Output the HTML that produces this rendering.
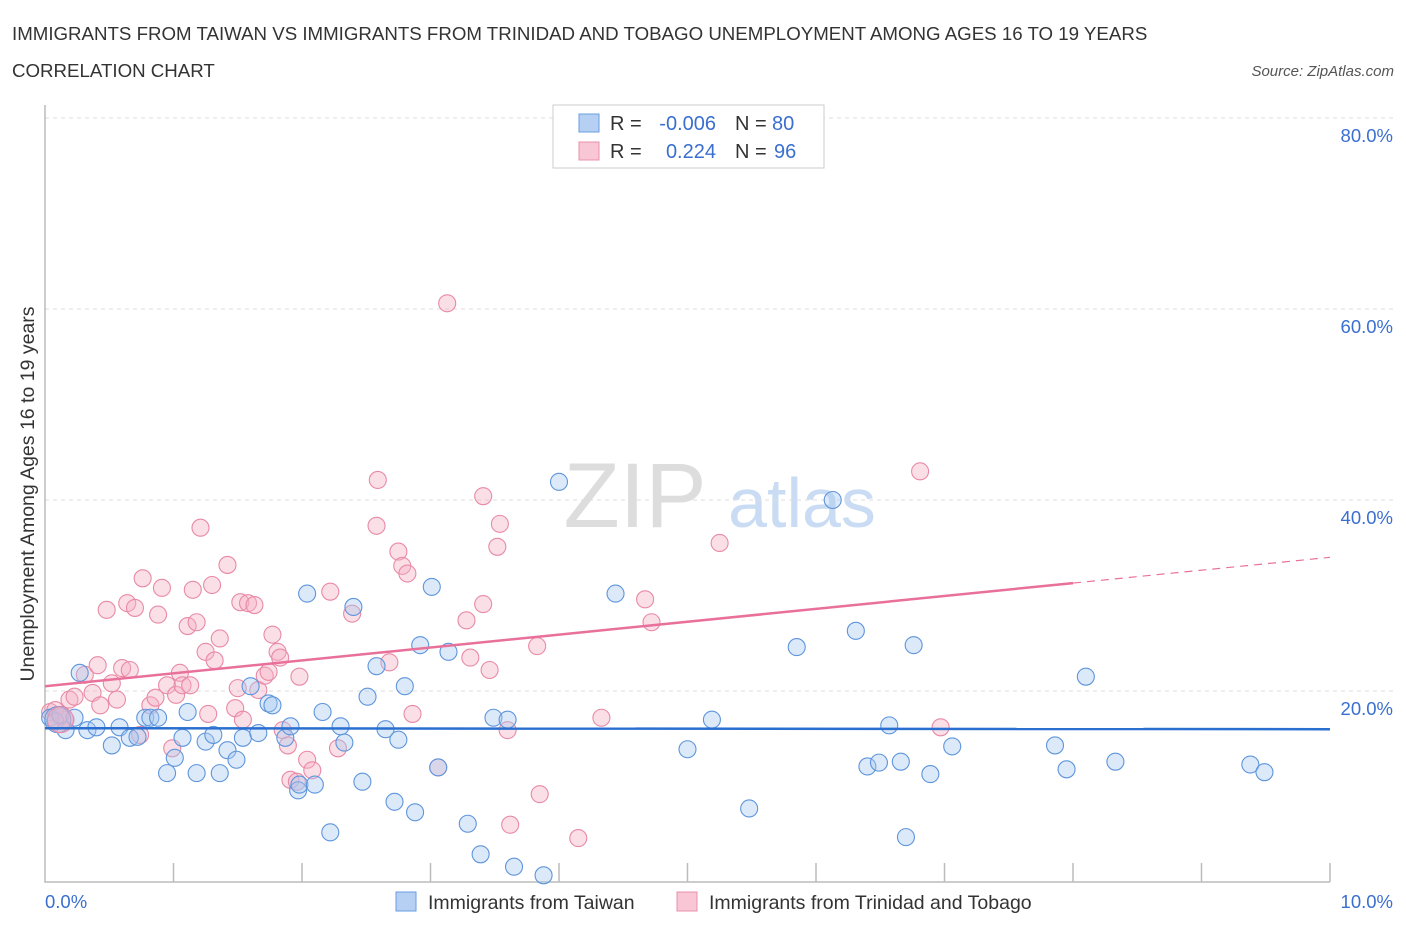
<!DOCTYPE html>
<html><head><meta charset="utf-8"><style>
body{margin:0;background:#fff;font-family:"Liberation Sans",sans-serif}
svg text{font-family:"Liberation Sans",sans-serif}
</style></head><body>
<svg id="chart" width="1406" height="930" xmlns="http://www.w3.org/2000/svg">
<text x="12" y="40" font-size="18.7" fill="#333">IMMIGRANTS FROM TAIWAN VS IMMIGRANTS FROM TRINIDAD AND TOBAGO UNEMPLOYMENT AMONG AGES 16 TO 19 YEARS</text>
<text x="12" y="77" font-size="18.7" fill="#333">CORRELATION CHART</text>
<text x="1394" y="76" font-size="15" font-style="italic" fill="#555" text-anchor="end">Source: ZipAtlas.com</text>
<g>
<text x="635" y="527" font-size="92" font-family="Liberation Serif" fill="#ddd" text-anchor="middle">ZIP</text>
<text x="802" y="527" font-size="70" fill="#c9dcf3" text-anchor="middle">atlas</text>
</g>
<g id="grid"></g>
<g id="axes"></g>
<g id="pts"></g>
<g id="trends"></g>
<text transform="translate(34,494) rotate(-90)" font-size="19.5" fill="#333" text-anchor="middle">Unemployment Among Ages 16 to 19 years</text>
<g>
<rect x="553" y="105" width="271" height="63" fill="#fff" stroke="#ccc"/>
<rect x="579" y="114" width="20" height="18" fill="#b6d0f4" stroke="#6a9ee0"/>
<rect x="579" y="142" width="20" height="18" fill="#f8c6d4" stroke="#e890a8"/>
<text x="610" y="130" font-size="20" fill="#333">R =</text>
<text x="716" y="130" font-size="20" fill="#3a6fd0" text-anchor="end">-0.006</text>
<text x="735" y="130" font-size="20" fill="#333">N =</text>
<text x="772" y="130" font-size="20" fill="#3a6fd0">80</text>
<text x="610" y="158" font-size="20" fill="#333">R =</text>
<text x="716" y="158" font-size="20" fill="#3a6fd0" text-anchor="end">0.224</text>
<text x="735" y="158" font-size="20" fill="#333">N =</text>
<text x="774" y="158" font-size="20" fill="#3a6fd0">96</text>
</g>
<g>
<rect x="396" y="892" width="20" height="19" fill="#b6d0f4" stroke="#6a9ee0"/>
<text x="428" y="909" font-size="19.5" fill="#333">Immigrants from Taiwan</text>
<rect x="677" y="892" width="20" height="19" fill="#f8c6d4" stroke="#e890a8"/>
<text x="709" y="909" font-size="19.5" fill="#333">Immigrants from Trinidad and Tobago</text>
</g>
</svg>
<script>
const yTicks=[20,40,60,80];
const xTickLabels=["0.0%","10.0%"];
const blueX=[0.04,0.08,0.16,0.12,0.23,0.27,0.33,0.40,0.52,0.58,0.66,0.72,0.78,0.82,0.88,0.95,1.01,1.07,1.11,1.18,1.25,1.31,1.36,1.42,1.49,1.54,1.60,1.66,1.74,1.77,1.87,1.91,1.97,1.98,2.04,2.10,2.16,2.22,2.30,2.33,2.40,2.47,2.51,2.58,2.65,2.72,2.75,2.80,2.88,2.92,3.06,3.14,3.01,3.29,3.39,3.49,3.60,3.65,3.88,4.00,4.44,5.00,5.19,5.48,5.85,6.13,6.31,6.40,6.49,6.57,6.66,6.70,6.76,6.89,7.06,7.86,7.95,8.10,8.33,9.38,9.49];
const blueY=[17.2,16.8,15.9,17.5,17.2,21.9,15.9,16.2,14.3,16.2,15.1,15.2,17.2,17.2,17.2,11.4,13.0,15.1,17.8,11.4,14.7,15.4,11.4,13.8,12.8,15.1,20.5,15.6,18.7,18.5,15.1,16.3,9.6,10.2,30.2,10.2,17.8,5.2,16.3,14.6,28.8,10.5,19.4,22.6,16.0,8.4,14.9,20.5,7.3,24.8,12.0,24.1,30.9,6.1,2.9,17.2,17.0,1.6,0.7,41.9,30.2,13.9,17.0,7.7,24.6,40.0,26.3,12.1,12.5,16.4,12.6,4.7,24.8,11.3,14.2,14.3,11.8,21.5,12.6,12.3,11.5];
const pinkX=[0.04,0.08,0.12,0.16,0.19,0.23,0.31,0.37,0.41,0.43,0.48,0.52,0.56,0.60,0.64,0.66,0.70,0.74,0.76,0.82,0.86,0.88,0.91,0.95,0.99,1.02,1.05,1.07,1.11,1.13,1.15,1.18,1.21,1.25,1.27,1.30,1.32,1.36,1.42,1.48,1.50,1.52,1.54,1.58,1.63,1.66,1.71,1.74,1.77,1.81,1.83,1.85,1.89,1.91,1.96,1.98,2.04,2.08,2.22,2.28,2.39,2.59,2.58,2.68,2.75,2.78,2.82,2.86,3.06,3.13,3.28,3.31,3.41,3.41,3.46,3.52,3.54,3.60,3.62,3.83,3.85,4.15,4.33,4.67,4.72,5.25,6.81,6.97];
const pinkY=[17.8,18.0,17.3,17.0,19.1,19.4,21.7,19.8,22.7,18.5,28.5,20.8,19.1,22.4,29.2,22.2,28.7,15.4,31.8,18.5,19.3,28.0,30.8,20.6,14.0,19.6,21.9,20.6,26.8,20.6,30.6,27.2,37.1,24.1,17.6,31.1,23.2,25.5,33.2,18.2,20.3,29.3,17.0,29.2,29.0,20.1,21.6,22.0,25.9,24.1,23.5,15.9,14.3,10.7,10.5,21.5,12.8,11.7,30.4,14.0,28.1,42.1,37.3,23.0,34.6,33.1,32.3,17.6,12.0,60.6,27.4,23.5,40.4,29.1,22.2,35.1,37.5,15.9,6.0,24.7,9.2,4.6,17.2,29.6,27.2,35.5,43.0,16.2];
const blueTrend=[16.1,16.0];
const pinkTrend=[20.5,34.0];
const X0=45,X1=1330,Y0=882,YPX=9.55;
const xs=v=>X0+(X1-X0)*v/10, ys=v=>Y0-v*YPX;
const NS="http://www.w3.org/2000/svg";
function mk(tag,attrs,parent){const e=document.createElementNS(NS,tag);for(const k in attrs)e.setAttribute(k,attrs[k]);parent.appendChild(e);return e;}
const grid=document.getElementById('grid'),axes=document.getElementById('axes'),pts=document.getElementById('pts'),tr=document.getElementById('trends');
yTicks.forEach(t=>{
 const l=mk('line',{x1:X0,x2:1395,y1:ys(t),y2:ys(t),stroke:'#ddd','stroke-dasharray':'4,4'},grid);
 
 
 const tx=mk('text',{x:1393,y:ys(t)+24,'font-size':18.5,fill:'#3a6fd0','text-anchor':'end'},grid);
 tx.textContent=t.toFixed(1)+'%';
 
 
});
const ax=mk('path',{d:`M${X0},105V${Y0}H${X1}`,fill:'none',stroke:'#bbb','stroke-width':1.5},axes);


for(let i=1;i<=10;i++){
 const t=mk('line',{x1:xs(i),x2:xs(i),y1:Y0-19,y2:Y0,stroke:'#bbb','stroke-width':1.5},axes);
 
 
}
xTickLabels.forEach((s,i)=>{
 const t=mk('text',{x:i?1393:45,y:908,'font-size':18.5,fill:'#3a6fd0','text-anchor':i?'end':'start'},axes);
 t.textContent=s;
 
 
});
function dots(X,Y,fill,stroke,name){
 X.forEach((x,i)=>{
  const c=mk('circle',{cx:xs(x),cy:ys(Y[i]),r:8.5,fill:fill,'fill-opacity':0.4,stroke:stroke,'stroke-width':1.1},pts);
  
  
 });
}
dots(pinkX,pinkY,'#f5b0c4','#e88aa6','trinidad-point');
dots(blueX,blueY,'#a8c8f0','#5e95dc','taiwan-point');
[[0.1,17,'#a8c8f0','#5e95dc'],[0.12,17,'#f5b0c4','#e88aa6']].forEach(p=>{
 const c=mk('circle',{cx:xs(p[0]),cy:ys(p[1]),r:13,fill:p[2],'fill-opacity':0.5,stroke:p[3]},pts);
 
 
});
const bl=mk('line',{x1:xs(0),x2:xs(10),y1:ys(blueTrend[0]),y2:ys(blueTrend[1]),stroke:'#2a6fd0','stroke-width':2.5},tr);


const pm=v=>pinkTrend[0]+(pinkTrend[1]-pinkTrend[0])*v/10;
const pl=mk('line',{x1:xs(0),x2:xs(8),y1:ys(pm(0)),y2:ys(pm(8)),stroke:'#e8709a','stroke-width':2.5},tr);


const pd=mk('line',{x1:xs(8),x2:xs(10),y1:ys(pm(8)),y2:ys(pm(10)),stroke:'#e8709a','stroke-width':1.2,'stroke-dasharray':'8,6'},tr);


</script>
</body></html>
